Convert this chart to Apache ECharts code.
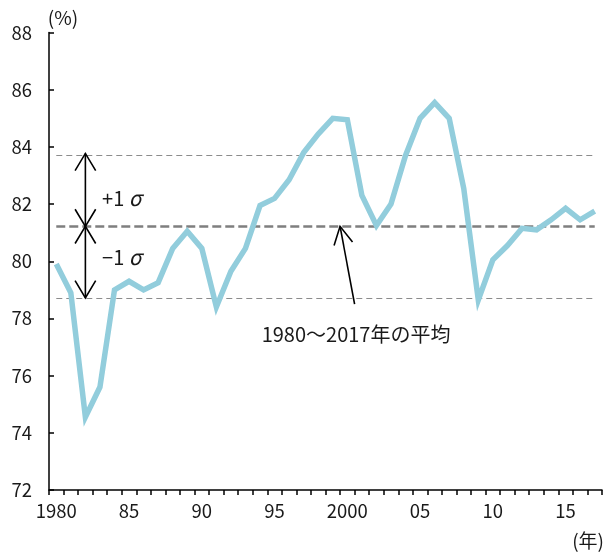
<!DOCTYPE html>
<html><head><meta charset="utf-8">
<script src="https://cdn.jsdelivr.net/npm/echarts@6/dist/echarts.min.js"></script>
<style>html,body{margin:0;padding:0;background:#fff}#c{width:608px;height:552px}</style>
</head><body><div id="c"></div>
<script>
const years = ['1980','1981','1982','1983','1984','1985','1986','1987','1988','1989',
  '1990','1991','1992','1993','1994','1995','1996','1997','1998','1999',
  '2000','2001','2002','2003','2004','2005','2006','2007','2008','2009',
  '2010','2011','2012','2013','2014','2015','2016','2017'];
const values = [79.9, 78.9, 74.55, 75.6, 79.0, 79.3, 79.0, 79.25, 80.45, 81.05,
  80.45, 78.4, 79.65, 80.45, 81.95, 82.2, 82.85, 83.8, 84.45, 85.0,
  84.95, 82.3, 81.25, 82.0, 83.7, 85.0, 85.55, 85.0, 82.55, 78.65,
  80.05, 80.55, 81.15, 81.1, 81.45, 81.85, 81.45, 81.75];
const xTickLabels = ['1980','85','90','95','2000','05','10','15'];
const yTicks = [72, 74, 76, 78, 80, 82, 84, 86, 88];
const meanValue = 81.22;
const sigmaValue = 2.5;
const yUnit = '(%)';
const xUnit = '(年)';
const meanLabel = '1980～2017年の平均';

const FONT = 'Noto Sans CJK JP';
const chart = echarts.init(document.getElementById('c'), null, {renderer: 'canvas'});

const option = {
  animation: false,
  backgroundColor: '#fff',
  textStyle: {fontFamily: FONT},
  grid: {left: 49, right: 6, top: 32.5, bottom: 62, containLabel: false},
  xAxis: {
    type: 'category',
    data: years,
    boundaryGap: true,
    axisLine: {lineStyle: {color: '#000', width: 1.5}},
    axisTick: {show: true, interval: 0, inside: false, length: 5, lineStyle: {color: '#000', width: 1.5}},
    axisLabel: {
      interval: 0, margin: 12, color: '#1a1a1a', fontSize: 18.5, fontFamily: FONT,
      formatter: (v, i) => (i % 5 === 0 ? xTickLabels[i / 5] : '')
    },
    splitLine: {show: false}
  },
  yAxis: {
    type: 'value',
    min: yTicks[0], max: yTicks[yTicks.length - 1], interval: 2,
    axisLine: {show: true, lineStyle: {color: '#000', width: 1.5}},
    axisTick: {show: true, inside: true, length: 5, lineStyle: {color: '#000', width: 1.5}},
    axisLabel: {margin: 17, color: '#1a1a1a', fontSize: 18.5, fontFamily: FONT},
    splitLine: {show: false}
  },
  series: [{
    type: 'line',
    data: values,
    symbol: 'none',
    z: 3,
    lineStyle: {color: '#92CDDC', width: 5.5, join: 'miter'},
    markLine: {
      silent: true,
      symbol: ['none', 'none'],
      label: {show: false},
      z: 2,
      data: [
        [{coord: [years[0], meanValue + sigmaValue], lineStyle: {color: '#8c8c8c', width: 1.2, type: [6, 4]}},
         {coord: [years[years.length - 1], meanValue + sigmaValue]}],
        [{coord: [years[0], meanValue - sigmaValue], lineStyle: {color: '#8c8c8c', width: 1.2, type: [6, 4]}},
         {coord: [years[years.length - 1], meanValue - sigmaValue]}],
        [{coord: [years[0], meanValue], lineStyle: {color: '#7f7f7f', width: 2.6, type: [9, 4]}},
         {coord: [years[years.length - 1], meanValue]}]
      ]
    }
  }]
};
chart.setOption(option);

function px(idx, val) {
  const i0 = Math.floor(idx), i1 = Math.min(i0 + 1, years.length - 1);
  const p0 = chart.convertToPixel({xAxisIndex: 0, yAxisIndex: 0}, [i0, val]);
  const p1 = chart.convertToPixel({xAxisIndex: 0, yAxisIndex: 0}, [i1, val]);
  const t = idx - i0;
  return [p0[0] + (p1[0] - p0[0]) * t, p0[1]];
}
function arrowHead(tip, from, len, ang) {
  const dx = from[0] - tip[0], dy = from[1] - tip[1];
  const d = Math.hypot(dx, dy);
  const ux = dx / d, uy = dy / d;
  const c = Math.cos(ang), s = Math.sin(ang);
  const a = [tip[0] + len * (ux * c - uy * s), tip[1] + len * (ux * s + uy * c)];
  const b = [tip[0] + len * (ux * c + uy * s), tip[1] + len * (-ux * s + uy * c)];
  return {type: 'polyline', shape: {points: [a, tip, b]}, style: {stroke: '#000', lineWidth: 1.6, fill: null}, z: 10};
}
function seg(a, b) {
  return {type: 'line', shape: {x1: a[0], y1: a[1], x2: b[0], y2: b[1]}, style: {stroke: '#000', lineWidth: 1.6}, z: 10};
}

const g = [];
// double arrow for sigma
const sIdx = 2;
const pTop = px(sIdx, meanValue + sigmaValue + 0.05);
const pMid = px(sIdx, meanValue);
const pBot = px(sIdx, meanValue - sigmaValue);
g.push(seg(pTop, pBot));
const ang = 31 * Math.PI / 180;
g.push(arrowHead(pTop, pMid, 20, ang));
g.push(arrowHead(pMid, pTop, 20, ang));
g.push(arrowHead(pMid, pBot, 20, ang));
g.push(arrowHead(pBot, pMid, 20, ang));
// mean arrow
const tip = px(19.5, meanValue);
const tail = px(20.5, 78.5);
g.push(seg(tip, tail));
g.push(arrowHead(tip, tail, 20, 28 * Math.PI / 180));
// texts
const tPlus = px(3.15, 82.2);
const tMinus = px(3.15, 80.15);
const sigmaText = (sign, p) => ({
  type: 'text', x: p[0], y: p[1], z: 10,
  style: {
    text: '{a|' + sign + '1 }{b|σ}',
    verticalAlign: 'middle', align: 'left',
    rich: {
      a: {fontSize: 20, fontFamily: FONT, fill: '#1a1a1a'},
      b: {fontSize: 21, fontFamily: FONT, fontStyle: 'italic', fill: '#1a1a1a'}
    }
  }
});
g.push(sigmaText('+', tPlus));
g.push(sigmaText('−', tMinus));
const tMean = px(20.6, 77.45);
g.push({type: 'text', x: tMean[0], y: tMean[1], z: 10,
  style: {text: meanLabel, fontSize: 20, fontFamily: FONT, fill: '#1a1a1a', align: 'center', verticalAlign: 'middle'}});
// unit labels
g.push({type: 'text', x: 63, y: 18, z: 10,
  style: {text: yUnit, fontSize: 19, fontFamily: FONT, fill: '#1a1a1a', align: 'center', verticalAlign: 'middle'}});
g.push({type: 'text', x: 604, y: 541, z: 10,
  style: {text: xUnit, fontSize: 19, fontFamily: FONT, fill: '#1a1a1a', align: 'right', verticalAlign: 'middle'}});

chart.setOption({graphic: g});
</script>
</body></html>
